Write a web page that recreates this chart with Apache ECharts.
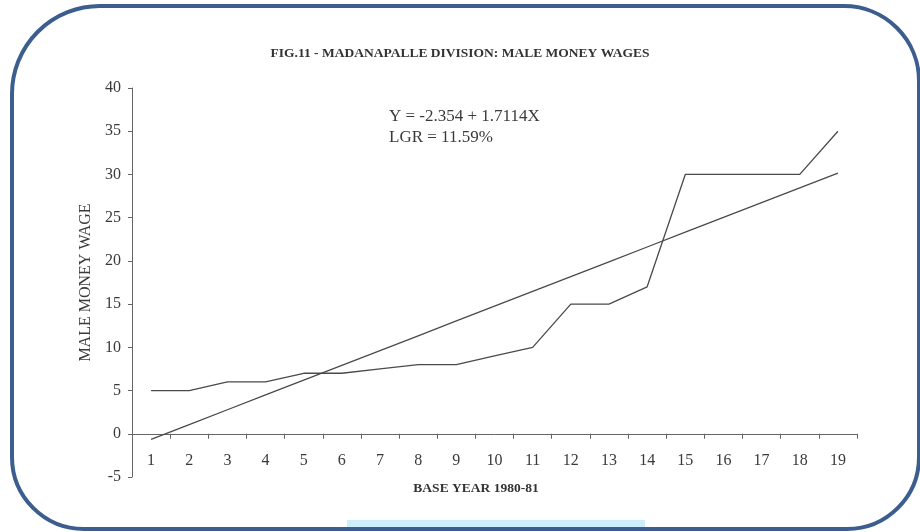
<!DOCTYPE html>
<html>
<head>
<meta charset="utf-8">
<title>Madanapalle Division: Male Money Wages</title>
<script src="https://cdn.jsdelivr.net/npm/echarts@6/dist/echarts.min.js"></script>
<style>
  html, body { margin: 0; padding: 0; background: #ffffff; }
  #chart { width: 920px; height: 532px; }
</style>
</head>
<body>
<div id="chart"></div>
<script>
// Years counted from the base year 1980-81
const years = ['1','2','3','4','5','6','7','8','9','10','11','12','13','14','15','16','17','18','19'];
// Male money wage per year
const maleWage = [5, 5, 6, 6, 7, 7, 7.5, 8, 8, 9, 10, 15, 15, 17, 30, 30, 30, 30, 35];
// Fitted linear trend: Y = intercept + slope * X
const trendCoef = [-2.354, 1.7114];
const trendText = ['Y = -2.354 + 1.7114X', 'LGR = 11.59%'];

const trend = years.map(y => +(trendCoef[0] + trendCoef[1] * Number(y)).toFixed(4));

const serif = '"Liberation Serif", "DejaVu Serif", serif';
const ink = '#3a3a3a';

const chart = echarts.init(document.getElementById('chart'), null, { renderer: 'canvas' });

chart.setOption({
  backgroundColor: '#ffffff',
  animation: false,
  title: {
    text: 'FIG.11 - MADANAPALLE DIVISION: MALE MONEY WAGES',
    left: 'center',
    top: 42,
    textStyle: { fontFamily: serif, fontWeight: 'bold', fontSize: 13.5, color: '#333' }
  },
  grid: { left: 132, right: 63, top: 88, bottom: 55, containLabel: false },
  xAxis: {
    type: 'category',
    data: years,
    boundaryGap: true,
    axisLine: { onZero: true, lineStyle: { color: '#666', width: 1 } },
    axisTick: { show: true, length: 5, alignWithLabel: false, lineStyle: { color: '#666' } },
    // labels sit just under the zero line rather than at the grid's lower edge
    axisLabel: { fontFamily: serif, fontSize: 16, color: ink, margin: -24 },
    splitLine: { show: false }
  },
  yAxis: {
    type: 'value',
    min: -5,
    max: 40,
    interval: 5,
    name: 'MALE MONEY WAGE',
    nameLocation: 'middle',
    nameGap: 38,
    nameTextStyle: { fontFamily: serif, fontSize: 16, color: ink },
    axisLine: { show: true, lineStyle: { color: '#666', width: 1 } },
    axisTick: { show: true, length: 4, lineStyle: { color: '#666' } },
    axisLabel: { fontFamily: serif, fontSize: 16, color: ink, margin: 11 },
    splitLine: { show: false }
  },
  series: [
    {
      name: 'Male money wage',
      type: 'line',
      data: maleWage,
      symbol: 'none',
      lineStyle: { color: '#4a4a4a', width: 1.3 }
    },
    {
      name: 'Trend',
      type: 'line',
      data: trend,
      symbol: 'none',
      lineStyle: { color: '#4a4a4a', width: 1.3 }
    }
  ],
  graphic: [
    {
      type: 'rect',
      z: 0,
      shape: { x: 347, y: 520, width: 298, height: 9 },
      style: { fill: '#cdeffa' }
    },
    {
      type: 'rect',
      z: 1,
      shape: { x: 12, y: 6, width: 907, height: 523, r: [88, 75, 72, 72] },
      style: { fill: 'none', stroke: '#3b5e8e', lineWidth: 4 }
    },
    {
      type: 'text',
      left: 389,
      top: 106,
      style: { text: trendText.join('\n'), fontFamily: serif, fontSize: 17, lineHeight: 21, fill: ink }
    },
    {
      type: 'text',
      x: 476,
      y: 489,
      style: {
        text: 'BASE YEAR 1980-81', fontFamily: serif, fontWeight: 'bold', fontSize: 13.5,
        fill: '#333', align: 'center', verticalAlign: 'middle'
      }
    }
  ]
});
</script>
</body>
</html>
